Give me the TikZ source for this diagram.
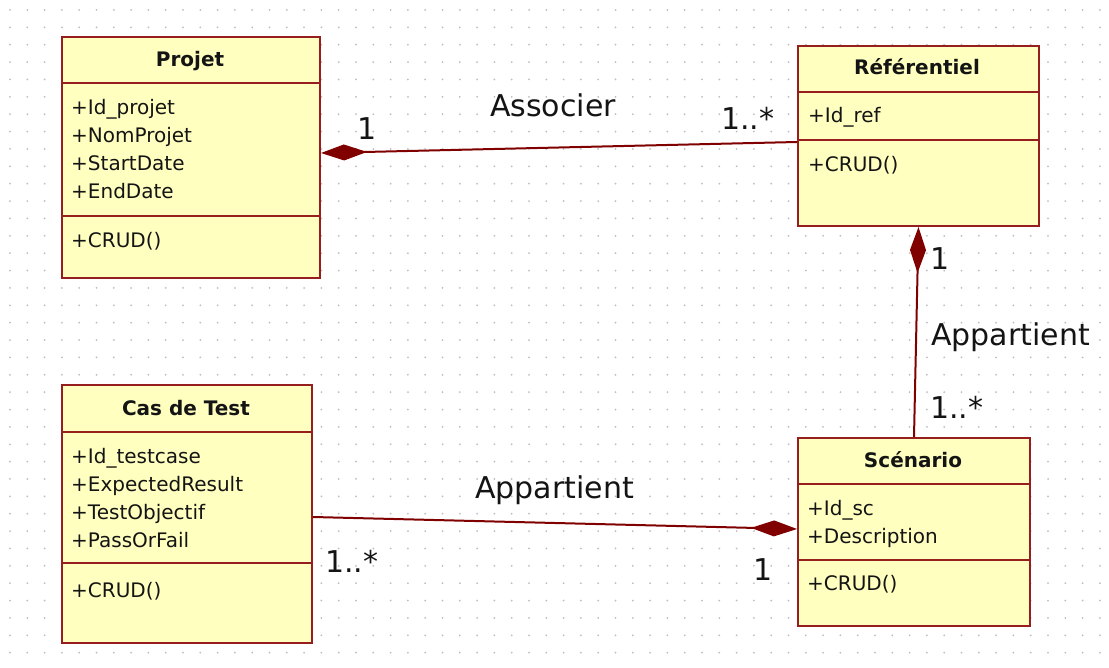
\documentclass[tikz,border=0pt]{standalone}
\usepackage{fontspec}
\setmainfont{DejaVu Sans}
\usetikzlibrary{arrows.meta}
\definecolor{boxfill}{RGB}{255,255,192}
\definecolor{boxline}{RGB}{150,30,30}
\definecolor{linkc}{RGB}{128,0,0}
\definecolor{dotc}{RGB}{190,190,190}
\definecolor{txt}{RGB}{20,20,20}
\begin{document}
\begin{tikzpicture}[x=1pt,y=-1pt,
  classbox/.style={draw=boxline, fill=boxfill, line width=2pt, rectangle, anchor=north west, inner sep=0pt},
  sepline/.style={draw=boxline, line width=2pt},
  ctitle/.style={font=\fontsize{20}{24}\selectfont\bfseries, text=txt, inner sep=0pt, anchor=base},
  cattr/.style={font=\fontsize{20}{24}\selectfont, text=txt, inner sep=0pt, anchor=base west},
  link/.style={draw=linkc, line width=2pt},
  comp/.style={{Diamond[length=46pt,width=16pt,fill=linkc]}-},
  lblw/.style={font=\fontsize{30}{36}\selectfont, text=txt, inner sep=0pt, anchor=base west},
  lblc/.style={font=\fontsize{30}{36}\selectfont, text=txt, inner sep=0pt, anchor=base}]
\useasboundingbox (0,0) rectangle (1109,668);
\fill[white] (0,0) rectangle (1109,668);
% dotted grid
\foreach \i in {0,...,63}{
  \foreach \j in {0,...,37}{
    \fill[dotc] ({10+\i*17.3},{10+\j*17.37}) circle (1pt);
  }
}
% classes
\node[classbox, minimum width=258pt, minimum height=241pt] (projet) at (61,36) {};
\node[classbox, minimum width=241pt, minimum height=180pt] (ref) at (797,45) {};
\node[classbox, minimum width=250pt, minimum height=258pt] (cas) at (61,384) {};
\node[classbox, minimum width=232pt, minimum height=188pt] (scen) at (797,437) {};
% separators
\draw[sepline] (projet.west |- 0,83) -- (projet.east |- 0,83);
\draw[sepline] (projet.west |- 0,216) -- (projet.east |- 0,216);
\draw[sepline] (ref.west |- 0,92) -- (ref.east |- 0,92);
\draw[sepline] (ref.west |- 0,140) -- (ref.east |- 0,140);
\draw[sepline] (cas.west |- 0,432) -- (cas.east |- 0,432);
\draw[sepline] (cas.west |- 0,563) -- (cas.east |- 0,563);
\draw[sepline] (scen.west |- 0,484) -- (scen.east |- 0,484);
\draw[sepline] (scen.west |- 0,560) -- (scen.east |- 0,560);
% Projet texts
\node[ctitle] (projetT) at (190,67) {Projet};
\node[cattr] (projetA1) at (71,115) {+Id\_projet};
\node[cattr] (projetA2) at (71,143) {+NomProjet};
\node[cattr] (projetA3) at (71,171) {+StartDate};
\node[cattr] (projetA4) at (71,199) {+EndDate};
\node[cattr] (projetM1) at (71,248) {+CRUD()};
% Referentiel texts
\node[ctitle] (refT) at (917,75) {Référentiel};
\node[cattr] (refA1) at (808,123) {+Id\_ref};
\node[cattr] (refM1) at (808,172) {+CRUD()};
% Cas de Test texts
\node[ctitle] (casT) at (186,415) {Cas de Test};
\node[cattr] (casA1) at (71,463) {+Id\_testcase};
\node[cattr] (casA2) at (71,491) {+ExpectedResult};
\node[cattr] (casA3) at (71,519) {+TestObjectif};
\node[cattr] (casA4) at (71,547) {+PassOrFail};
\node[cattr] (casM1) at (71,597) {+CRUD()};
% Scenario texts
\node[ctitle] (scenT) at (913,467) {Scénario};
\node[cattr] (scenA1) at (807,515) {+Id\_sc};
\node[cattr] (scenA2) at (807,543) {+Description};
\node[cattr] (scenM1) at (807,590) {+CRUD()};
% connectors
\draw[link, comp] ([yshift=4.5pt]projet.east) -- ([yshift=-6pt]ref.west);
\draw[link, comp] (ref.south) -- (scen.north);
\draw[link, comp] ([yshift=3pt]scen.west) -- ([yshift=-3pt]cas.east);
% labels
\node[lblc] (lAssoc) at (553,117) {Associer};
\node[lblc] (lP1) at (367,140) {1};
\node[lblw] (lR1) at (721,130) {1..*};
\node[lblc] (lR2) at (940,270) {1};
\node[lblw] (lApp1) at (931,346) {Appartient};
\node[lblw] (lS1) at (930,418) {1..*};
\node[lblw] (lApp2) at (475,498) {Appartient};
\node[lblw] (lC1) at (325,572) {1..*};
\node[lblc] (lS2) at (763,580) {1};
\end{tikzpicture}
\end{document}
